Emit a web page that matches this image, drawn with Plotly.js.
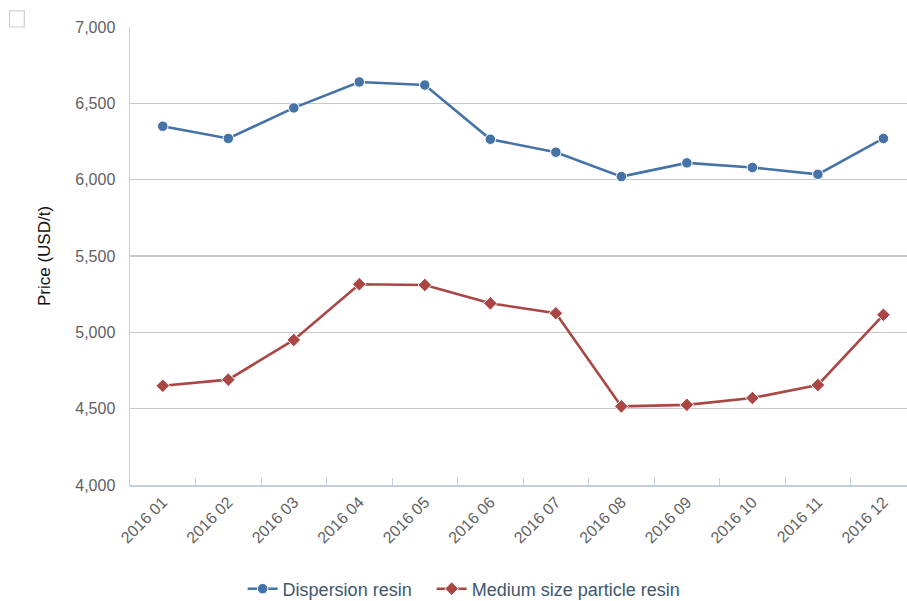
<!DOCTYPE html>
<html>
<head>
<meta charset="utf-8">
<script src="https://cdn.plot.ly/plotly-3.0.1.min.js"></script>
<style>
  html, body { margin: 0; padding: 0; background: #fff; }
  #chart { width: 907px; height: 601px; }
</style>
</head>
<body>
<div id="chart"></div>
<script>
const months = ["2016 01","2016 02","2016 03","2016 04","2016 05","2016 06","2016 07","2016 08","2016 09","2016 10","2016 11","2016 12"];
const dispersionResin = [6350, 6270, 6470, 6640, 6620, 6265, 6180, 6020, 6110, 6080, 6035, 6270];
const mediumParticleResin = [4650, 4690, 4950, 5315, 5310, 5190, 5125, 4515, 4525, 4570, 4655, 5115];
const yTicks = [4000, 4500, 5000, 5500, 6000, 6500, 7000];
const seriesNames = ["Dispersion resin", "Medium size particle resin"];

const font = "Liberation Sans, Arial, Helvetica, sans-serif";

const traces = [
  {
    type: "scatter", mode: "lines+markers", name: seriesNames[0] + "\u00a0\u00a0\u00a0",
    x: months, y: dispersionResin,
    line: { color: "#4572A7", width: 2.6 },
    marker: { symbol: "circle", size: 10.5, color: "#4572A7", line: { color: "#ffffff", width: 1 } },
    cliponaxis: false
  },
  {
    type: "scatter", mode: "lines+markers", name: seriesNames[1],
    x: months, y: mediumParticleResin,
    line: { color: "#AA4643", width: 2.6 },
    marker: { symbol: "diamond", size: 10.5, color: "#AA4643", line: { color: "#ffffff", width: 1 } },
    cliponaxis: false
  }
];

const layout = {
  width: 907, height: 601,
  margin: { l: 130, r: 0, t: 27, b: 116 },
  paper_bgcolor: "#ffffff", plot_bgcolor: "#ffffff",
  font: { family: font, color: "#666666", size: 16 },
  showlegend: true,
  legend: {
    orientation: "h", xref: "paper", x: 0.43, xanchor: "center",
    yref: "container", y: 0.02, yanchor: "middle",
    font: { family: font, size: 18, color: "#3E576F" },
    itemwidth: 30, tracegroupgap: 0
  },
  xaxis: {
    type: "category",
    range: [-0.5, 11.36],
    tickangle: -45,
    tickson: "boundaries",
    ticks: "inside", ticklen: 7, tickcolor: "#C0D0E0", tickwidth: 1,
    showline: true, linecolor: "#C0D0E0", linewidth: 1.5,
    showgrid: false, zeroline: false,
    tickfont: { family: font, size: 16, color: "#5f5f5f" },
    fixedrange: true
  },
  yaxis: {
    range: [4000, 7000],
    tickvals: yTicks,
    ticktext: yTicks.map(v => v.toLocaleString("en-US")),
    showline: true, linecolor: "#C0D0E0", linewidth: 1.5,
    showgrid: true, gridcolor: "#C8C8C8", gridwidth: 1.2,
    zeroline: false, ticks: "",
    ticklabelstandoff: 10,
    tickfont: { family: font, size: 16, color: "#5f5f5f" },
    title: { text: "Price (USD/t)", font: { family: font, size: 17, color: "#111111" }, standoff: 20 },
    fixedrange: true
  },
  shapes: [
    {
      type: "rect", xref: "paper", yref: "paper",
      x0: -0.155, x1: -0.136, y0: 1.0, y1: 1.035,
      line: { color: "#cfcfcf", width: 1.2 }, fillcolor: "#ffffff", layer: "above"
    }
  ],
  hovermode: false
};

Plotly.newPlot("chart", traces, layout, { displayModeBar: false, staticPlot: true });
</script>
</body>
</html>
